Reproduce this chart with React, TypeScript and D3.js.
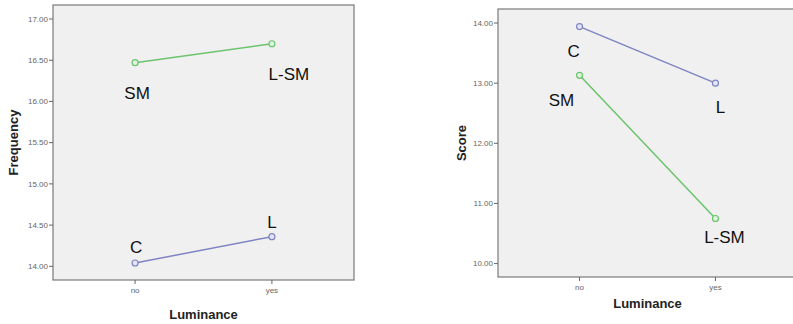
import React from "react";
import * as d3 from "d3";

// x categories shared by both panels
const luminance = ["no", "yes"];

// left panel: Frequency
const freqTicks = [14, 14.5, 15, 15.5, 16, 16.5, 17];
const freqC = [14.04, 14.36];
const freqSM = [16.47, 16.7];

// right panel: Score
const scoreTicks = [10, 11, 12, 13, 14];
const scoreC = [13.94, 13.0];
const scoreSM = [13.13, 10.75];

const BLUE = "#7f84c2";
const GREEN = "#6cc46c";

type Lbl = { text: string; i: number; v: number; dx: number; dy: number };

function Panel(props: {
  left: number; top: number; right: number; bottom: number;
  domain: [number, number]; ticks: number[];
  blue: number[]; green: number[];
  yTitle: string; yTitleX: number; xTitleY: number;
  labels: Lbl[];
}) {
  const { left, top, right, bottom, domain, ticks, blue, green, labels } = props;
  const y = d3.scaleLinear().domain(domain).range([bottom, top]);
  const x = d3.scalePoint().domain(luminance).range([left, right]).padding(0.6);
  const line = d3.line<number>().x((_, i) => x(luminance[i])!).y(d => y(d));
  const cx = (left + right) / 2;
  const cy = (top + bottom) / 2;
  return (
    <g>
      <rect x={left} y={top} width={right - left} height={bottom - top} fill="#f0f0f0" stroke="#7a7a7a" strokeWidth={1.2} />
      {ticks.map(t => (
        <g key={t}>
          <line x1={left - 4} x2={left} y1={y(t)} y2={y(t)} stroke="#666" />
          <text x={left - 5} y={y(t)} dy="0.35em" textAnchor="end" fontSize={8} fill="#666">{t.toFixed(2)}</text>
        </g>
      ))}
      {luminance.map(c => (
        <g key={c}>
          <line x1={x(c)} x2={x(c)} y1={bottom} y2={bottom + 4} stroke="#666" />
          <text x={x(c)} y={bottom + 13} textAnchor="middle" fontSize={8} fill="#666">{c}</text>
        </g>
      ))}
      <path d={line(blue)!} fill="none" stroke={BLUE} strokeWidth={1.5} />
      <path d={line(green)!} fill="none" stroke={GREEN} strokeWidth={1.5} />
      {blue.map((v, i) => (
        <circle key={"b" + i} cx={x(luminance[i])} cy={y(v)} r={3} fill="#e4e4f4" stroke={BLUE} strokeWidth={1.2} />
      ))}
      {green.map((v, i) => (
        <circle key={"g" + i} cx={x(luminance[i])} cy={y(v)} r={3} fill="#e2f2e2" stroke={GREEN} strokeWidth={1.2} />
      ))}
      {labels.map(l => (
        <text key={l.text} x={x(luminance[l.i])! + l.dx} y={y(l.v) + l.dy} textAnchor="middle" fontSize={17} fill="#111">{l.text}</text>
      ))}
      <text transform={`translate(${props.yTitleX},${cy}) rotate(-90)`} textAnchor="middle" fontSize={13} fontWeight="bold" fill="#222">{props.yTitle}</text>
      <text x={cx} y={props.xTitleY} textAnchor="middle" fontSize={13} fontWeight="bold" fill="#222">Luminance</text>
    </g>
  );
}

export default function App() {
  return (
    <svg width={793} height={324} style={{ position: "absolute", left: 0, top: 0, fontFamily: "Liberation Sans, Arial, sans-serif" }}>
      <rect width={793} height={324} fill="#fff" />
      <Panel left={53} top={5} right={354} bottom={280} domain={[13.834, 17.17]} ticks={freqTicks}
        blue={freqC} green={freqSM} yTitle="Frequency" yTitleX={18} xTitleY={319}
        labels={[
          { text: "SM", i: 0, v: freqSM[0], dx: 2, dy: 36 },
          { text: "L-SM", i: 1, v: freqSM[1], dx: 17, dy: 36 },
          { text: "C", i: 0, v: freqC[0], dx: 1, dy: -10 },
          { text: "L", i: 1, v: freqC[1], dx: 0, dy: -9 },
        ]} />
      <Panel left={498} top={9} right={797} bottom={277} domain={[9.777, 14.233]} ticks={scoreTicks}
        blue={scoreC} green={scoreSM} yTitle="Score" yTitleX={466} xTitleY={308}
        labels={[
          { text: "C", i: 0, v: scoreC[0], dx: -6, dy: 30 },
          { text: "SM", i: 0, v: scoreSM[0], dx: -18, dy: 31 },
          { text: "L", i: 1, v: scoreC[1], dx: 5, dy: 30 },
          { text: "L-SM", i: 1, v: scoreSM[1], dx: 9, dy: 25 },
        ]} />
    </svg>
  );
}
